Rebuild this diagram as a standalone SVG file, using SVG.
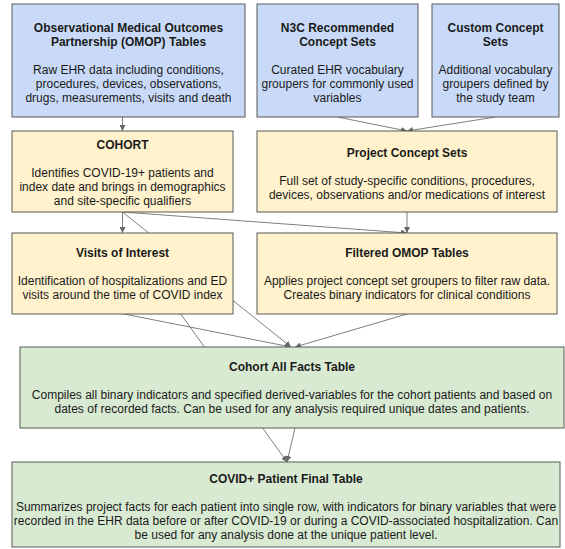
<svg xmlns="http://www.w3.org/2000/svg" width="565" height="549" viewBox="0 0 565 549">
<style>
.box{stroke:#595959;stroke-width:1}
.blue{fill:#c9daf8}
.yel{fill:#fff2cc}
.grn{fill:#d9ead3}
text{font-family:"Liberation Sans",Arial,sans-serif;font-size:12px;fill:#1a1a1a;text-anchor:middle}
.t{font-weight:bold}
.c{stroke:#7f7f7f;stroke-width:1;fill:none}
.a{marker-end:url(#ah)}
</style>
<defs>
<marker id="ah" markerUnits="userSpaceOnUse" markerWidth="7" markerHeight="6" refX="6" refY="3" orient="auto">
<path d="M0,0 L6,3 L0,6 z" fill="#666"/>
</marker>
</defs>
<g id="connectors">
<line class="c a" x1="122.5" y1="117" x2="122.5" y2="131"/>
<line class="c a" x1="337.5" y1="117" x2="407" y2="131"/>
<line class="c a" x1="495.5" y1="117" x2="407" y2="131"/>
<line class="c a" x1="122.5" y1="212" x2="122.5" y2="233"/>
<line class="c a" x1="122.5" y1="212" x2="407" y2="233"/>
<line class="c a" x1="407" y1="212" x2="407" y2="233"/>
<line class="c a" x1="122.5" y1="212" x2="291" y2="347"/>
<line class="c a" x1="124" y1="314" x2="291" y2="347"/>
<line class="c a" x1="122.5" y1="233" x2="287" y2="462"/>
<line class="c a" x1="407" y1="314" x2="295" y2="347"/>
<line class="c a" x1="295" y1="428" x2="287" y2="462"/>
</g>
<g id="omop">
<rect class="box blue" x="12" y="4" width="233" height="113"/>
<text class="t" x="128.5" y="32">Observational Medical Outcomes</text>
<text class="t" x="128.5" y="46">Partnership (OMOP) Tables</text>
<text x="128.5" y="74">Raw EHR data including conditions,</text>
<text x="128.5" y="88">procedures, devices, observations,</text>
<text x="128.5" y="102">drugs, measurements, visits and death</text>
</g>
<g id="n3c">
<rect class="box blue" x="257" y="4" width="161" height="113"/>
<text class="t" x="337.5" y="32">N3C Recommended</text>
<text class="t" x="337.5" y="46">Concept Sets</text>
<text x="337.5" y="74">Curated EHR vocabulary</text>
<text x="337.5" y="88">groupers for commonly used</text>
<text x="337.5" y="102">variables</text>
</g>
<g id="custom">
<rect class="box blue" x="432" y="4" width="127" height="113"/>
<text class="t" x="495.5" y="32">Custom Concept</text>
<text class="t" x="495.5" y="46">Sets</text>
<text x="495.5" y="74">Additional vocabulary</text>
<text x="495.5" y="88">groupers defined by</text>
<text x="495.5" y="102">the study team</text>
</g>
<g id="cohort">
<rect class="box yel" x="12" y="131" width="221" height="81"/>
<text class="t" x="122.5" y="149">COHORT</text>
<text x="122.5" y="177">Identifies COVID-19+ patients and</text>
<text x="122.5" y="191">index date and brings in demographics</text>
<text x="122.5" y="205">and site-specific qualifiers</text>
</g>
<g id="project">
<rect class="box yel" x="257" y="131" width="300" height="81"/>
<text class="t" x="407" y="157">Project Concept Sets</text>
<text x="407" y="185">Full set of study-specific conditions, procedures,</text>
<text x="407" y="199">devices, observations and/or medications of interest</text>
</g>
<g id="visits">
<rect class="box yel" x="12" y="233" width="221" height="81"/>
<text class="t" x="122.5" y="257">Visits of Interest</text>
<text x="122.5" y="285">Identification of hospitalizations and ED</text>
<text x="122.5" y="299">visits around the time of COVID index</text>
</g>
<g id="filtered">
<rect class="box yel" x="257" y="233" width="300" height="81"/>
<text class="t" x="407" y="257">Filtered OMOP Tables</text>
<text x="407" y="285">Applies project concept set groupers to filter raw data.</text>
<text x="407" y="299">Creates binary indicators for clinical conditions</text>
</g>
<g id="allfacts">
<rect class="box grn" x="20" y="347" width="544" height="81"/>
<text class="t" x="292" y="371">Cohort All Facts Table</text>
<text x="292" y="399">Compiles all binary indicators and specified derived-variables for the cohort patients and based on</text>
<text x="292" y="413">dates of recorded facts. Can be used for any analysis required unique dates and patients.</text>
</g>
<g id="final">
<rect class="box grn" x="12" y="462" width="548" height="85"/>
<text class="t" x="286" y="483">COVID+ Patient Final Table</text>
<text x="286" y="511">Summarizes project facts for each patient into single row, with indicators for binary variables that were</text>
<text x="286" y="525">recorded in the EHR data before or after COVID-19 or during a COVID-associated hospitalization. Can</text>
<text x="286" y="539">be used for any analysis done at the unique patient level.</text>
</g>
</svg>
